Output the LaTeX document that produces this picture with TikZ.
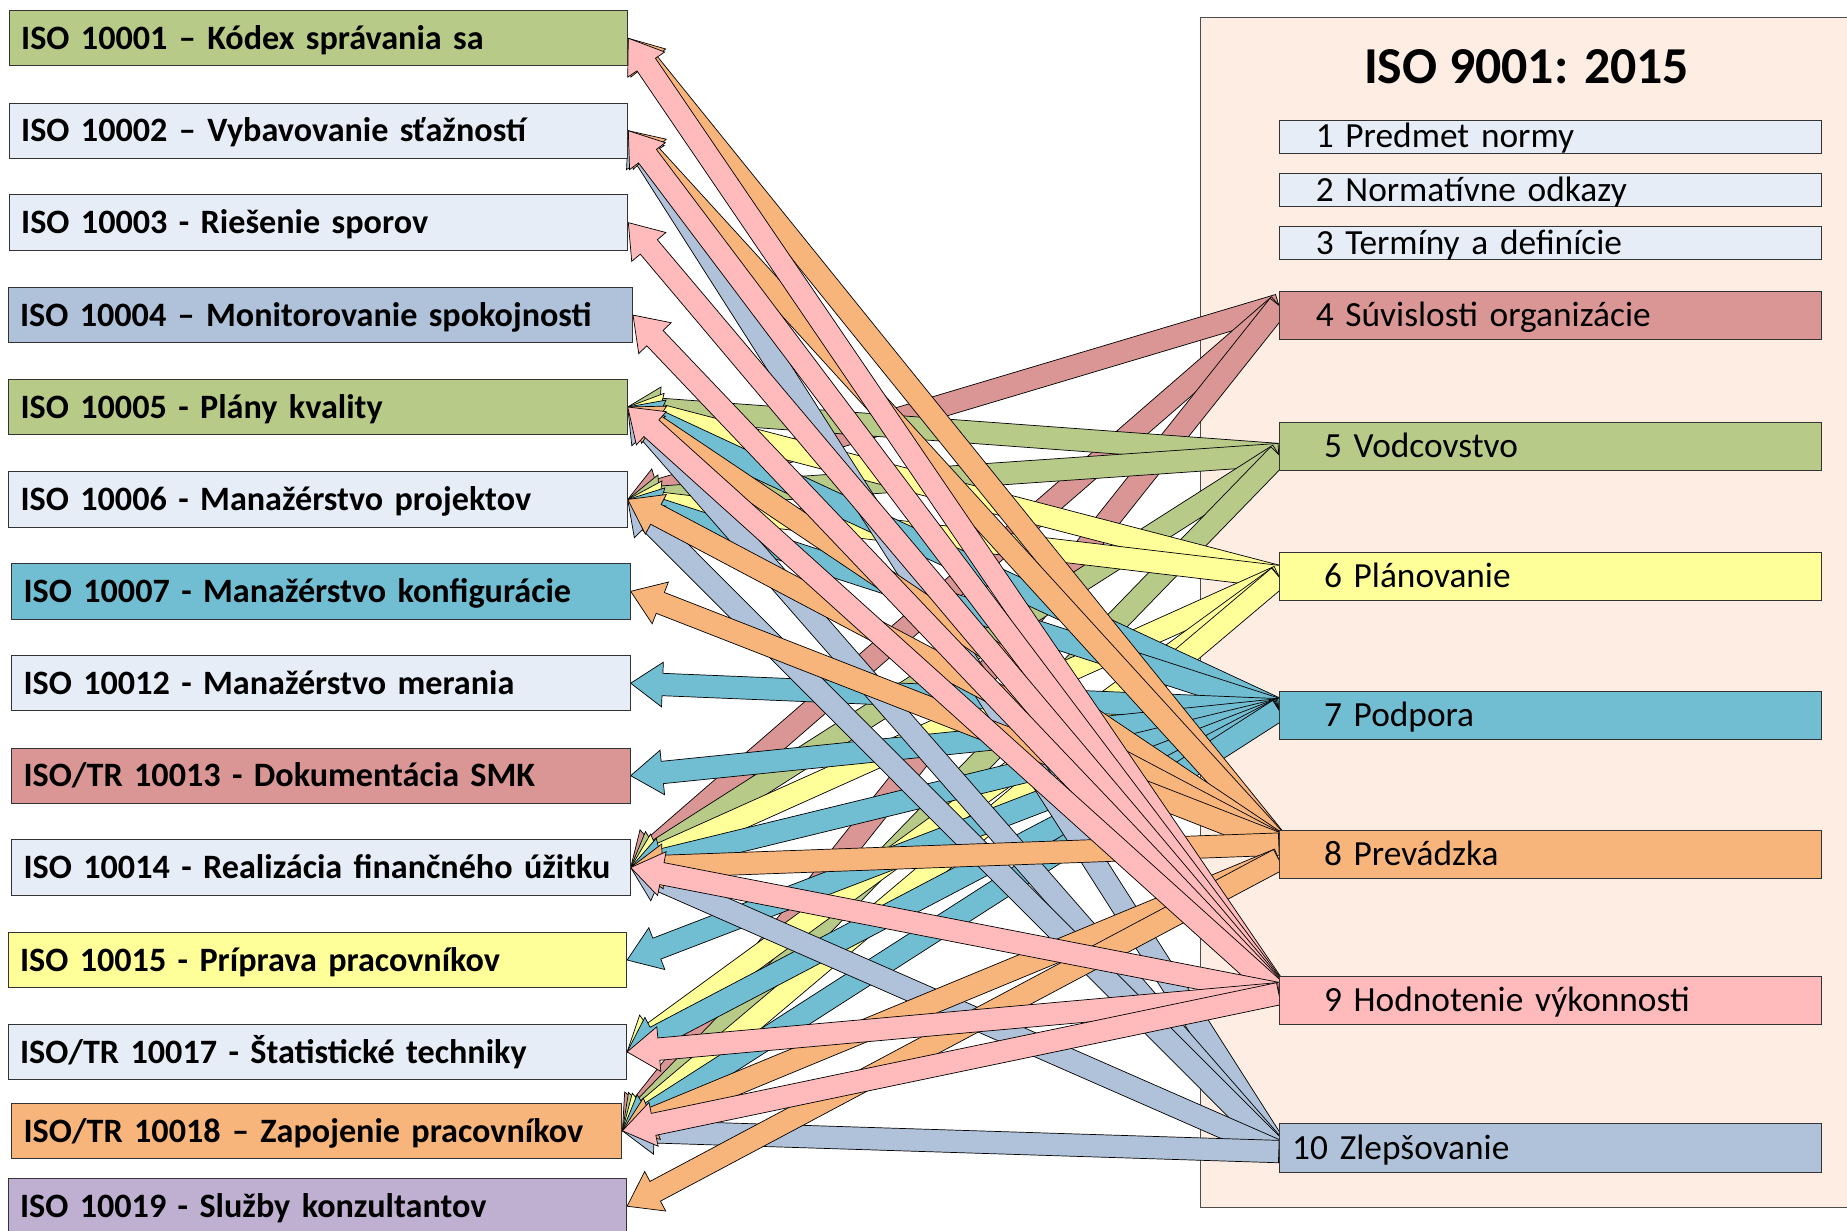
\documentclass[tikz,border=0pt]{standalone}
\usepackage{fontspec}
\setmainfont{Carlito}
\usetikzlibrary{calc}
\pgfdeclarelayer{fond}
\pgfdeclarelayer{fleches}
\pgfsetlayers{fond,fleches,main}
\definecolor{isogreen}{HTML}{B7CA88}
\definecolor{isolight}{HTML}{E6EDF7}
\definecolor{isosteel}{HTML}{AFC2DA}
\definecolor{isoteal}{HTML}{71BED3}
\definecolor{isored}{HTML}{D99694}
\definecolor{isoyellow}{HTML}{FFFF99}
\definecolor{isoorange}{HTML}{F8B57B}
\definecolor{isopink}{HTML}{FFBABB}
\definecolor{isopurple}{HTML}{BFB0D1}
\definecolor{isobeige}{HTML}{FDEDE3}
\tikzset{
  lbox/.style={draw=black!80, line width=0.8pt, minimum width=525pt, minimum height=47pt,
    text width=505pt, inner xsep=10pt, inner ysep=0pt, text height=23pt, text depth=4pt,
    align=left, font=\fontsize{29}{34}\selectfont\bfseries},
  rbox/.style={draw=black!80, line width=0.8pt, minimum width=460pt, minimum height=41pt,
    text width=384pt, inner xsep=38pt, inner ysep=0pt, text height=23pt, text depth=4pt,
    align=left, font=\fontsize{30}{36}\selectfont},
  sbox/.style={rbox, minimum height=28pt, text width=398pt, inner xsep=31pt, text height=22pt, text depth=3pt},
  outline/.style={draw=black, line width=0.6pt}
}
\begin{document}
\begin{tikzpicture}[x=1pt,y=-1pt]
\useasboundingbox (0,0) rectangle (1568,1045);
\begin{pgfonlayer}{fond}
  \draw[fill=isobeige, draw=black!70, line width=0.8pt] (1019,15) rectangle (1590,1025);
\end{pgfonlayer}
\node[font=\fontsize{44}{50}\selectfont\bfseries] (titre) at (1296,57) {ISO 9001: 2015};
% normy rady ISO 10000
\node[lbox, fill=isogreen]  (l1)  at (270.5,32.5) {ISO 10001 – Kódex správania sa};
\node[lbox, fill=isolight]  (l2)  at (270.5,111)  {ISO 10002 – Vybavovanie sťažností};
\node[lbox, fill=isolight]  (l3)  at (270.5,189)  {ISO 10003 - Riešenie sporov};
\node[lbox, fill=isosteel, minimum width=530pt, text width=510pt] (l4) at (272,267.5) {ISO 10004 – Monitorovanie spokojnosti};
\node[lbox, fill=isogreen]  (l5)  at (270,345.5)  {ISO 10005 - Plány kvality};
\node[lbox, fill=isolight]  (l6)  at (270,424)    {ISO 10006 - Manažérstvo projektov};
\node[lbox, fill=isoteal]   (l7)  at (272.5,502)  {ISO 10007 - Manažérstvo konfigurácie};
\node[lbox, fill=isolight]  (l8)  at (272.5,580)  {ISO 10012 - Manažérstvo merania};
\node[lbox, fill=isored]    (l9)  at (272.5,658.5){ISO/TR 10013 - Dokumentácia SMK};
\node[lbox, fill=isolight]  (l10) at (272.5,736.5){\mbox{ISO 10014 - Realizácia finančného úžitku}};
\node[lbox, fill=isoyellow] (l11) at (269.5,815)  {ISO 10015 - Príprava pracovníkov};
\node[lbox, fill=isolight]  (l12) at (269.5,893)  {ISO/TR 10017 - Štatistické techniky};
\node[lbox, fill=isoorange, minimum width=518pt, text width=498pt] (l13) at (269,960) {ISO/TR 10018 – Zapojenie pracovníkov};
\node[lbox, fill=isopurple] (l14) at (269.5,1024) {ISO 10019 - Služby konzultantov};
% kapitoly ISO 9001
\node[sbox, fill=isolight]  (r1)  at (1316,116)   {1 Predmet normy};
\node[sbox, fill=isolight]  (r2)  at (1316,161.5) {2 Normatívne odkazy};
\node[sbox, fill=isolight]  (r3)  at (1316,206.5) {3 Termíny a definície};
\node[rbox, fill=isored, text width=398pt, inner xsep=31pt] (r4) at (1316,268) {4 Súvislosti organizácie};
\node[rbox, fill=isogreen]  (r5)  at (1316,379)   {5 Vodcovstvo};
\node[rbox, fill=isoyellow] (r6)  at (1316,489.5) {6 Plánovanie};
\node[rbox, fill=isoteal]   (r7)  at (1316,607.5) {7 Podpora};
\node[rbox, fill=isoorange] (r8)  at (1316,725.5) {8 Prevádzka};
\node[rbox, fill=isopink]   (r9)  at (1316,849.5) {9 Hodnotenie výkonnosti};
\node[rbox, fill=isosteel, text width=438pt, inner xsep=11pt] (r10) at (1316,974.5) {10 Zlepšovanie};
% body, z ktorych vychadzaju sipky
\coordinate (s4)  at ($(r4.north west)+(0,12)$);
\coordinate (s5)  at ($(r5.south west)+(0,-14)$);
\coordinate (s6)  at (r6.west);
\coordinate (s7)  at ($(r7.north west)+(0,16)$);
\coordinate (s8)  at ($(r8.north west)+(0,12)$);
\coordinate (s8b) at ($(r8.north west)+(0,25)$);
\coordinate (s9)  at ($(r9.north west)+(0,15)$);
\coordinate (s10) at ($(r10.north west)+(0,24)$);
\def\myarrow#1#2#3{% farba, odkial, kam
  \path ($(#3)!27pt!(#2)$) coordinate (hb);
  \filldraw[fill=#1, outline] ($(#2)!9.5pt!90:(#3)$) -- ($(hb)!9.5pt!90:(#3)$) -- ($(hb)!19pt!90:(#3)$)
    -- (#3) -- ($(hb)!19pt!-90:(#3)$) -- ($(hb)!9.5pt!-90:(#3)$) -- ($(#2)!9.5pt!-90:(#3)$) -- cycle;}
\begin{pgfonlayer}{fleches}
  \foreach \t in {l6,l10,l13} {\myarrow{isored}{s4}{\t.east}}
  \foreach \t in {l5,l6,l10,l13} {\myarrow{isogreen}{s5}{\t.east}}
  \foreach \t in {l5,l6,l10,l12,l13} {\myarrow{isoyellow}{s6}{\t.east}}
  \foreach \t in {l5,l6,l8,l9,l10,l11,l12,l13} {\myarrow{isoteal}{s7}{\t.east}}
  \foreach \t in {l2,l5,l6,l10,l13} {\myarrow{isosteel}{s10}{\t.east}}
  \foreach \t in {l1,l2,l5,l6,l7,l10} {\myarrow{isoorange}{s8}{\t.east}}
  \foreach \t in {l13,l14} {\myarrow{isoorange}{s8b}{\t.east}}
  \foreach \t in {l1,l2,l3,l4,l5,l10,l12,l13} {\myarrow{isopink}{s9}{\t.east}}
\end{pgfonlayer}
\end{tikzpicture}
\end{document}
